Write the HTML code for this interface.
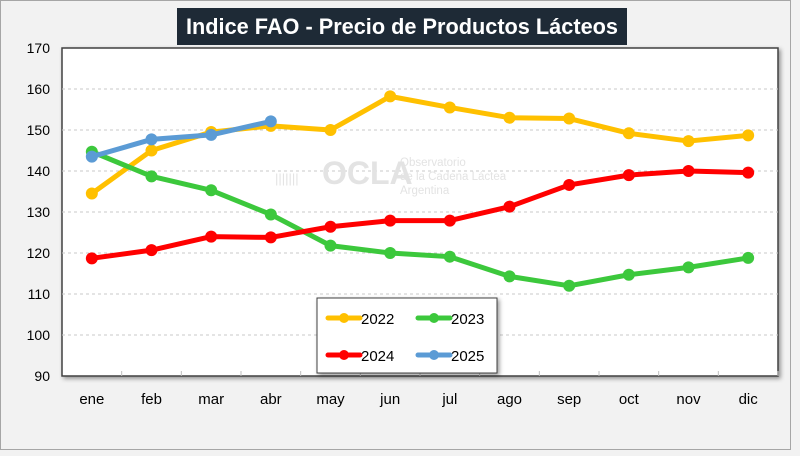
<!DOCTYPE html>
<html><head><meta charset="utf-8"><style>
body{margin:0;width:800px;height:451px;overflow:hidden;background:#f2f2f2;font-family:"Liberation Sans",sans-serif}
</style></head><body>
<svg id="c" width="800" height="451" xmlns="http://www.w3.org/2000/svg">
<defs><filter id="sh" x="-5%" y="-5%" width="115%" height="115%"><feDropShadow dx="2" dy="2" stdDeviation="2" flood-opacity="0.4"/></filter></defs>
<rect x="0.5" y="0.5" width="790" height="449" fill="#f2f2f2" stroke="#a6a6a6"/>
<rect x="62" y="48" width="716" height="328" fill="#fff" stroke="#404040" stroke-width="1.5" filter="url(#sh)"/>
<rect x="177" y="8" width="450" height="37" fill="#1e2a36"/>
<text x="186" y="34" textLength="432" lengthAdjust="spacingAndGlyphs" font-size="22" font-weight="bold" fill="#fff">Indice FAO - Precio de Productos Lácteos</text>
<g id="grid"></g>
<g fill="#e3e3e3">
<text x="275" y="183" font-size="13" fill="#e3e3e3">|||||||</text>
<text x="322" y="184" font-size="32" font-weight="bold">OCLA</text>
<text x="400" y="166" font-size="11.5">Observatorio</text>
<text x="400" y="180" font-size="11.5">de la Cadena Láctea</text>
<text x="400" y="194" font-size="11.5">Argentina</text>
</g>
<g id="series"></g>
<g>
<rect x="317" y="298" width="180" height="75" fill="#fff" stroke="#404040" filter="url(#sh)"/>
<g id="leg"></g></g>
</svg>
<script>
const categories=["ene","feb","mar","abr","may","jun","jul","ago","sep","oct","nov","dic"];
const yTicks=[90,100,110,120,130,140,150,160,170];
const s2022=[134.5,145,149.5,151,150,158.2,155.5,153,152.8,149.2,147.3,148.7];
const s2023=[144.7,138.7,135.3,129.4,121.8,120,119.1,114.3,112,114.7,116.5,118.8];
const s2024=[118.7,120.7,124,123.8,126.4,127.9,127.9,131.3,136.6,139,140,139.6];
const s2025=[143.5,147.7,148.8,152.1];
const seriesNames=["2022","2023","2024","2025"];
const NS="http://www.w3.org/2000/svg";
const X0=62,X1=778,Y0=376,Y1=48;
const step=(X1-X0)/categories.length;
const xs=i=>X0+step*(i+0.5);
const ys=v=>Y0-(v-90)/(170-90)*(Y0-Y1);
function mk(t,a,p){const e=document.createElementNS(NS,t);for(const k in a)e.setAttribute(k,a[k]);p.appendChild(e);return e;}
const g=document.getElementById('grid');
yTicks.forEach(v=>{
 if(v>90&&v<170){const l=mk('line',{x1:X0,x2:X1,y1:ys(v),y2:ys(v),stroke:'#c8c8c8','stroke-dasharray':'3,3'},g);
 
 }
 const t=mk('text',{x:50,y:ys(v)+5,'text-anchor':'end','font-size':14,fill:'#000'},g);t.textContent=v;
 
 
});
categories.forEach((c,i)=>{
 const tk=mk('line',{x1:X0+step*(i+1),x2:X0+step*(i+1),y1:Y0,y2:Y0-5,stroke:'#bfbfbf'},g);
 
 
 const t=mk('text',{x:xs(i),y:404,'text-anchor':'middle','font-size':15,fill:'#000'},g);t.textContent=c;
 
 
});
const data=[s2022,s2023,s2024,s2025];
const colors=["#ffc000","#3cc83c","#ff0000","#5b9bd5"];
const sg=document.getElementById('series');
data.forEach((d,k)=>{
 const gg=mk('g',{},sg);
 
 
 const p=mk('polyline',{points:d.map((v,i)=>xs(i)+','+ys(v)).join(' '),fill:'none',stroke:colors[k],'stroke-width':5,'stroke-linejoin':'round'},gg);
 
 
 d.forEach((v,i)=>{const c=mk('circle',{cx:xs(i),cy:ys(v),r:6,fill:colors[k]},gg);
 
 });
});
const lg=document.getElementById('leg');
seriesNames.forEach((n,k)=>{
 const x=328+(k%2)*90,y=318+Math.floor(k/2)*37;
 const e=mk('g',{},lg);
 
 
 mk('line',{x1:x,x2:x+32,y1:y,y2:y,stroke:colors[k],'stroke-width':5,'stroke-linecap':'round'},e);
 mk('circle',{cx:x+16,cy:y,r:5,fill:colors[k]},e);
 const t=mk('text',{x:x+33,y:y+6,'font-size':15,fill:'#000'},e);t.textContent=n;
});
</script>
</body></html>
